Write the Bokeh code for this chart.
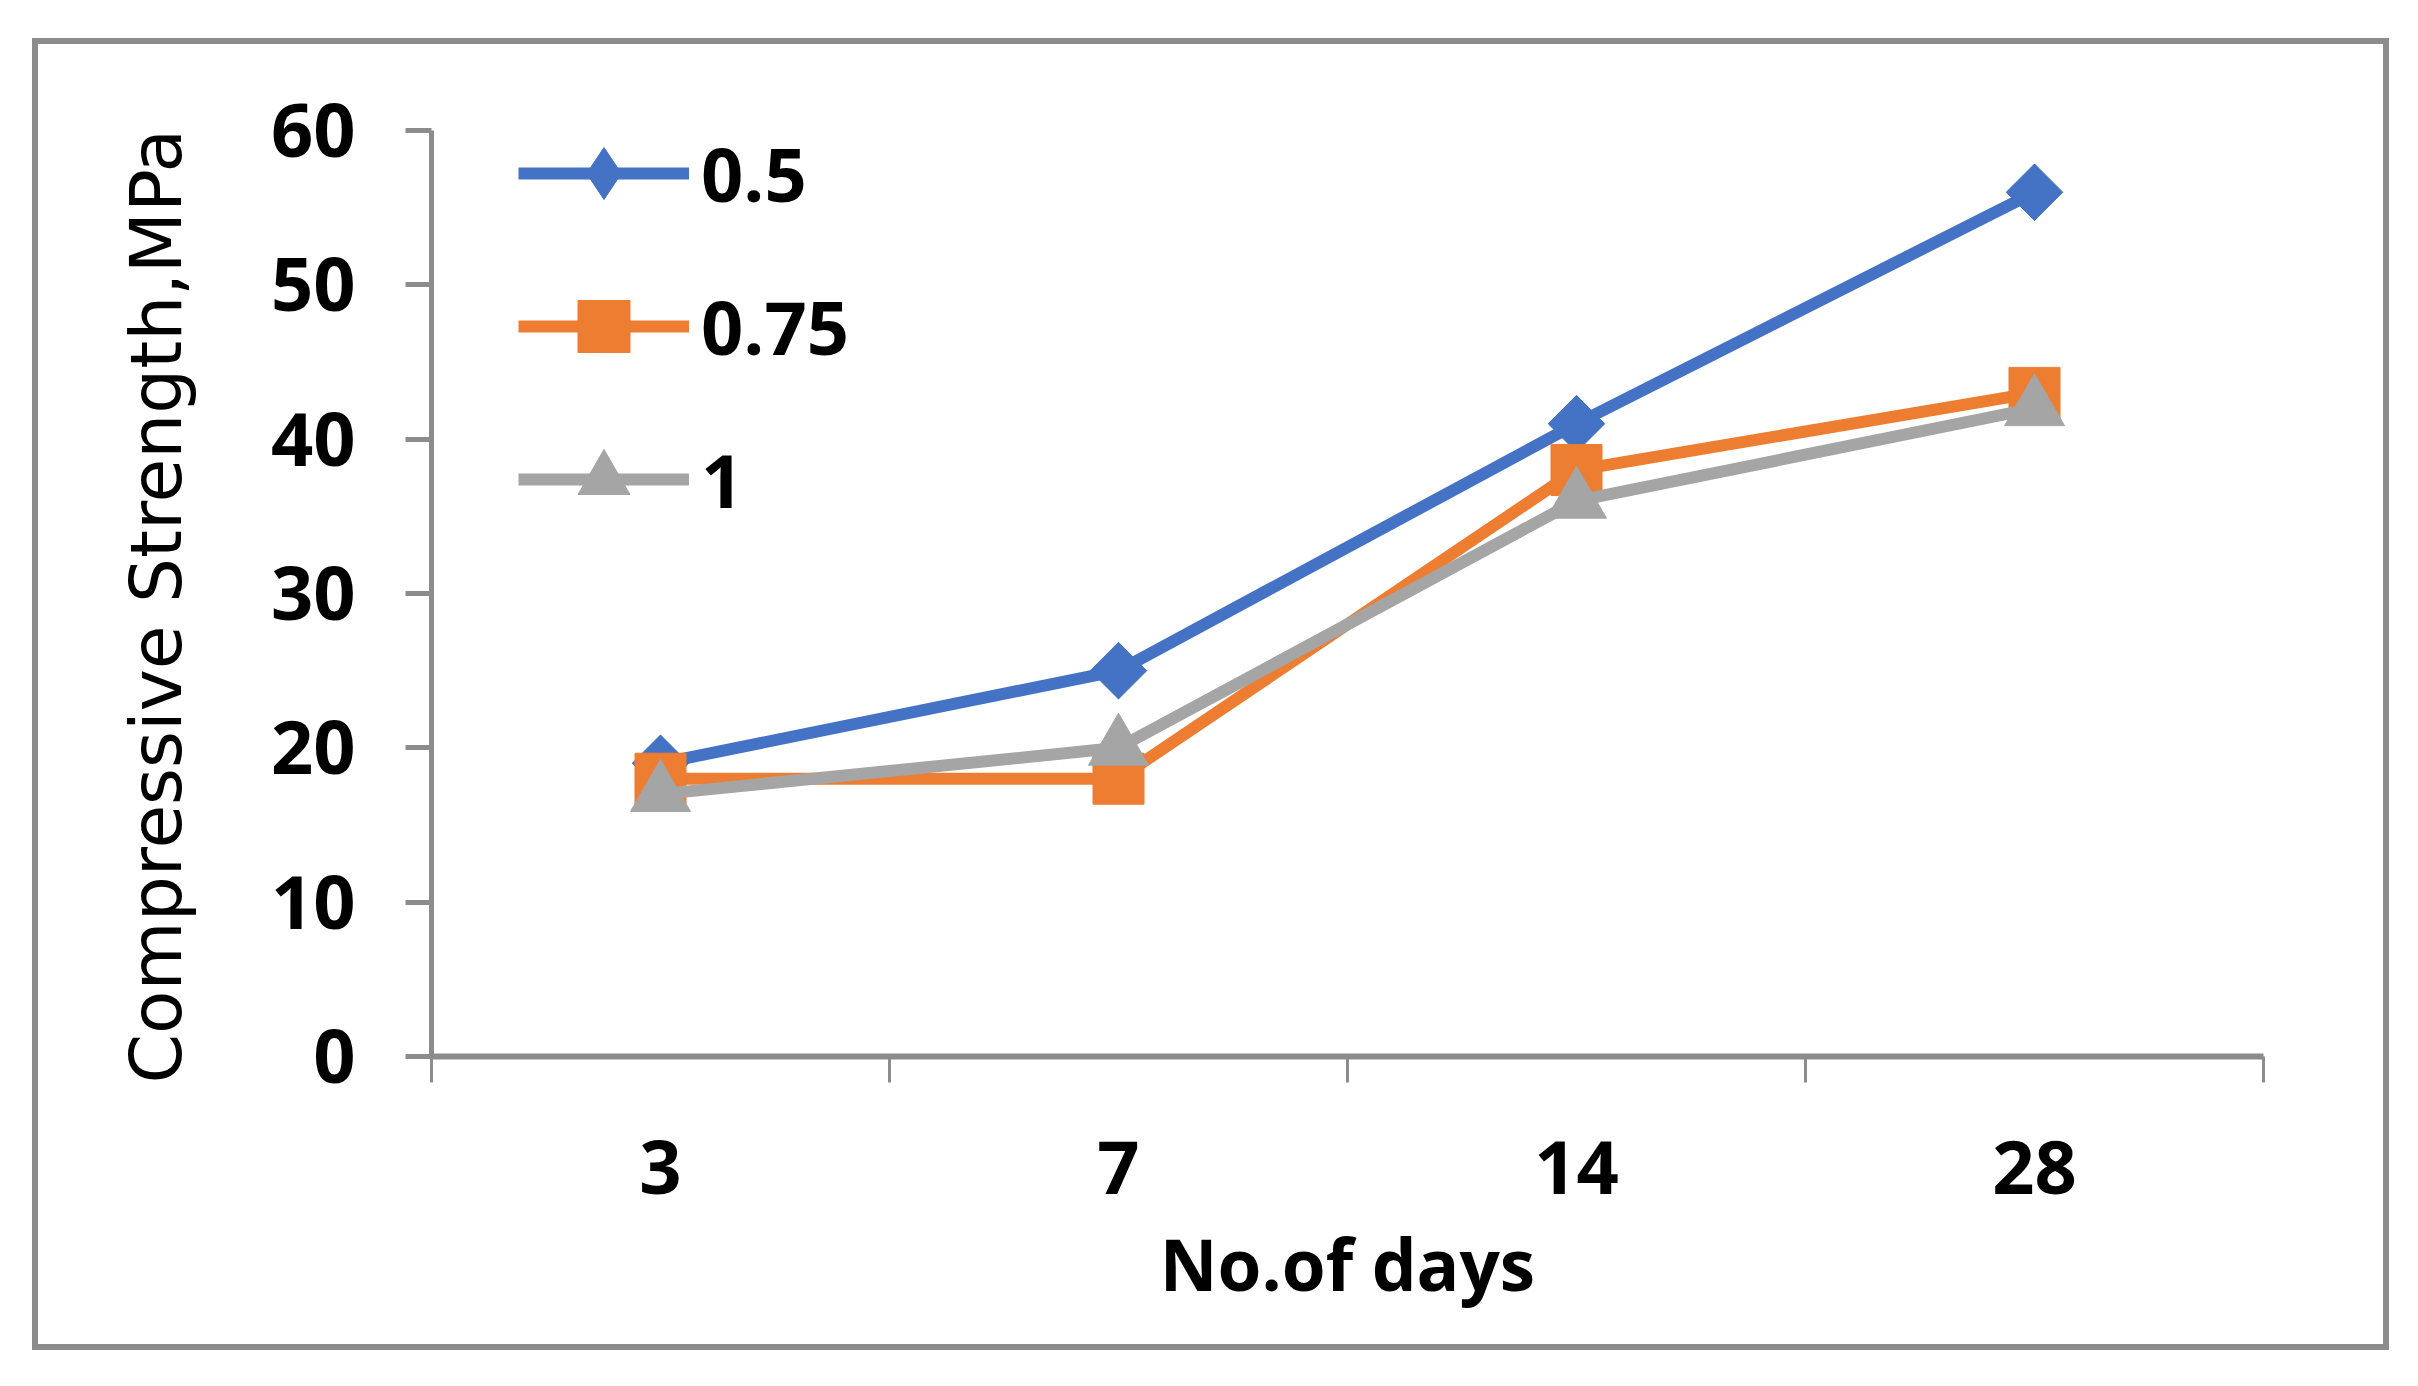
import numpy as np
from bokeh.plotting import figure
from bokeh.models import FixedTicker, Legend, LegendItem, Range1d, Title
from bokeh.embed import file_html
from bokeh.resources import INLINE

days = ["3", "7", "14", "28"]
s05 = [19, 25, 41, 56]
s075 = [18, 18, 38, 43]
s1 = [17, 20, 36, 42]
series_names = ["0.5", "0.75", "1"]
colors = ["#4472C4", "#ED7D31", "#A5A5A5"]
y_ticks = [0, 10, 20, 30, 40, 50, 60]
y_title = "Compressive Strength,MPa"
x_title = "No.of days"

W, H = 2357, 1312
FONT = "Open Sans"
axis_color = "#8c8c8c"

p = figure(width=W, height=H, output_backend="svg", toolbar_location=None,
           x_range=Range1d(-0.5, len(days) - 0.5), y_range=Range1d(0, 63.5),
           min_border_left=393, min_border_right=132,
           min_border_top=32, min_border_bottom=300)
p.styles = {"border": "6px solid #8c8c8c", "margin-left": "32px", "margin-top": "38px"}
p.grid.visible = False
p.outline_line_color = None
p.background_fill_color = "white"
p.border_fill_color = "white"

x = np.arange(len(days))
LW = 12

r1l = p.line(x, s05, line_color=colors[0], line_width=LW)
r1key = p.scatter(x, s05, marker="diamond", size=56,
                  fill_color=colors[0], line_color=colors[0])
r1m = p.scatter(x, s05, marker="square", angle=np.pi / 4, size=40,
                fill_color=colors[0], line_color=colors[0])
r2l = p.line(x, s075, line_color=colors[1], line_width=LW)
r2m = p.scatter(x, s075, marker="square", size=51, fill_color=colors[1], line_color=colors[1])
r3l = p.line(x, s1, line_color=colors[2], line_width=LW)
r3m = p.scatter(x, s1, marker="triangle", size=60, fill_color=colors[2], line_color=colors[2])

xa = p.xaxis[0]
xa.ticker = FixedTicker(ticks=list(x), minor_ticks=list(np.arange(len(days) + 1) - 0.5))
xa.major_label_overrides = {int(i): d for i, d in zip(x, days)}
xa.major_tick_out = 0
xa.major_tick_in = 0
xa.minor_tick_out = 26
xa.minor_tick_in = 0
xa.minor_tick_line_color = axis_color
xa.minor_tick_line_width = 3
xa.axis_line_color = axis_color
xa.axis_line_width = 6
xa.major_label_text_font = FONT
xa.major_label_text_font_style = "bold"
xa.major_label_text_font_size = "74px"
xa.major_label_text_color = "black"
xa.major_label_standoff = 58
xa.axis_label = x_title
xa.axis_label_text_font = FONT
xa.axis_label_text_font_style = "bold"
xa.axis_label_text_font_size = "71px"
xa.axis_label_text_color = "black"
xa.axis_label_standoff = 18

ya = p.yaxis[0]
ya.bounds = (0, 60)
ya.ticker = FixedTicker(ticks=y_ticks)
ya.major_tick_out = 26
ya.major_tick_in = 0
ya.minor_tick_out = 0
ya.minor_tick_in = 0
ya.major_tick_line_color = axis_color
ya.major_tick_line_width = 5
ya.axis_line_color = axis_color
ya.axis_line_width = 5
ya.major_label_text_font = FONT
ya.major_label_text_font_style = "bold"
ya.major_label_text_font_size = "74px"
ya.major_label_text_color = "black"
ya.major_label_standoff = 50

ytitle = Title(text=y_title, align="left", offset=-27, vertical_align="bottom",
               standoff=140, text_font="DejaVu Sans", text_font_size="71px",
               text_font_style="normal", text_color="black")
p.add_layout(ytitle, "left")

legend = Legend(items=[
    LegendItem(label=series_names[0], renderers=[r1l, r1key]),
    LegendItem(label=series_names[1], renderers=[r2l, r2m]),
    LegendItem(label=series_names[2], renderers=[r3l, r3m]),
], location=(87, 512), orientation="vertical")
legend.glyph_width = 171
legend.glyph_height = 130
legend.label_height = 130
legend.spacing = 23
legend.padding = 0
legend.margin = 0
legend.label_standoff = 12
legend.border_line_color = None
legend.background_fill_alpha = 0
legend.label_text_font = FONT
legend.label_text_font_style = "bold"
legend.label_text_font_size = "74px"
legend.label_text_color = "black"
legend.label_text_baseline = "middle"
p.add_layout(legend)

open("out.html", "w").write(file_html(p, INLINE))
